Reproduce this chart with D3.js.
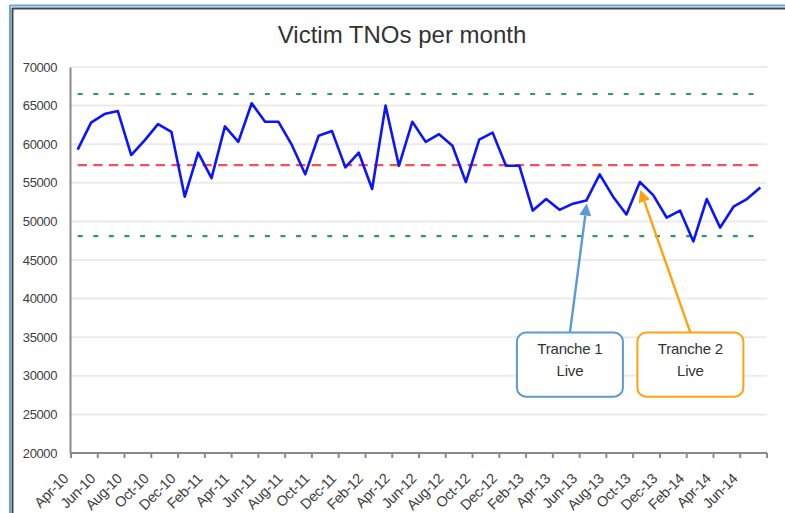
<!DOCTYPE html>
<html>
<head>
<meta charset="utf-8">
<script src="https://cdn.jsdelivr.net/npm/d3@7"></script>
<style>
  html, body { margin: 0; padding: 0; background: #fff; }
  svg { display: block; font-family: "Liberation Sans", Arial, sans-serif; }
</style>
</head>
<body>
<svg id="chart" width="785" height="513"></svg>
<script>
// ---- data ----
const months = [
  "Apr-10","May-10","Jun-10","Jul-10","Aug-10","Sep-10","Oct-10","Nov-10","Dec-10","Jan-11",
  "Feb-11","Mar-11","Apr-11","May-11","Jun-11","Jul-11","Aug-11","Sep-11","Oct-11","Nov-11",
  "Dec-11","Jan-12","Feb-12","Mar-12","Apr-12","May-12","Jun-12","Jul-12","Aug-12","Sep-12",
  "Oct-12","Nov-12","Dec-12","Jan-13","Feb-13","Mar-13","Apr-13","May-13","Jun-13","Jul-13",
  "Aug-13","Sep-13","Oct-13","Nov-13","Dec-13","Jan-14","Feb-14","Mar-14","Apr-14","May-14",
  "Jun-14","Jul-14"
];
const values = [
  59300, 62800, 63900, 64300, 58600, 60500, 62600, 61600, 53200, 58900,
  55600, 62300, 60300, 65300, 62900, 62900, 59900, 56100, 61100, 61700,
  57000, 58900, 54200, 65000, 57200, 62900, 60300, 61300, 59800, 55100,
  60600, 61500, 57200, 57200, 51400, 52900, 51500, 52300, 52700, 56100,
  53200, 50900, 55100, 53400, 50500, 51400, 47400, 52900, 49200, 51900,
  52900, 54400
];
const meanValue = 57300;
const upperLimit = 66500;
const lowerLimit = 48100;
const yTicks = [20000, 25000, 30000, 35000, 40000, 45000, 50000, 55000, 60000, 65000, 70000];
const xLabels = [
  "Apr-10","Jun-10","Aug-10","Oct-10","Dec-10","Feb-11","Apr-11","Jun-11","Aug-11","Oct-11",
  "Dec-11","Feb-12","Apr-12","Jun-12","Aug-12","Oct-12","Dec-12","Feb-13","Apr-13","Jun-13",
  "Aug-13","Oct-13","Dec-13","Feb-14","Apr-14","Jun-14"
];
const annotations = [
  { month: "Jun-13", lines: ["Tranche 1", "Live"], color: "#5b9bd5", boxMonth: "May-13" },
  { month: "Oct-13", lines: ["Tranche 2", "Live"], color: "#ffa20f", boxMonth: "Feb-14" }
];
const title = "Victim TNOs per month";

// ---- layout ----
const svg = d3.select("#chart");
const pLeft = 71, pRight = 767, pTop = 67, pBottom = 453;

const x = d3.scaleBand().domain(months).range([pLeft, pRight]).padding(0);
const cx = d => x(d) + x.bandwidth() / 2;
const y = d3.scaleLinear().domain([20000, 70000]).range([pBottom, pTop]);

// frame
svg.append("line").attr("x1", 10).attr("x2", 785).attr("y1", 5.5).attr("y2", 5.5)
  .attr("stroke", "#6aa5dc").attr("stroke-width", 2);
svg.append("line").attr("x1", 10).attr("x2", 10).attr("y1", 5).attr("y2", 513)
  .attr("stroke", "#6aa5dc").attr("stroke-width", 2);
svg.append("line").attr("x1", 12).attr("x2", 785).attr("y1", 8.5).attr("y2", 8.5)
  .attr("stroke", "#444").attr("stroke-width", 2);
svg.append("line").attr("x1", 12.5).attr("x2", 12.5).attr("y1", 8).attr("y2", 513)
  .attr("stroke", "#444").attr("stroke-width", 2);

// title
svg.append("text").attr("x", 402).attr("y", 43).attr("text-anchor", "middle")
  .attr("font-size", 24).attr("fill", "#333").text(title);

// gridlines
svg.append("g").selectAll("line").data(yTicks.slice(1)).join("line")
  .attr("x1", pLeft).attr("x2", pRight)
  .attr("y1", d => y(d)).attr("y2", d => y(d))
  .attr("stroke", "#ebebeb").attr("stroke-width", 2);

// y axis
const yAxis = svg.append("g").attr("transform", `translate(${pLeft - 1},0)`)
  .call(d3.axisLeft(y).tickValues(yTicks).tickFormat(d3.format("d")).tickSize(0).tickPadding(13));
yAxis.select(".domain").attr("stroke", "#8a8a8a").attr("stroke-width", 2);
yAxis.selectAll("text").attr("font-size", 13).attr("fill", "#404040")
  .attr("font-family", "'Liberation Sans', Arial, sans-serif").attr("letter-spacing", -0.4);

// x axis
const tickPos = d3.range(0, months.length + 1, 2).map(i => pLeft + i * x.bandwidth());
const xg = svg.append("g");
xg.append("line").attr("x1", pLeft - 1).attr("x2", pRight).attr("y1", pBottom).attr("y2", pBottom)
  .attr("stroke", "#8a8a8a").attr("stroke-width", 2);
xg.selectAll("line.tk").data(tickPos).join("line").attr("class", "tk")
  .attr("x1", d => d).attr("x2", d => d).attr("y1", pBottom).attr("y2", pBottom + 5)
  .attr("stroke", "#8a8a8a").attr("stroke-width", 2);
xg.selectAll("text").data(xLabels).join("text")
  .attr("transform", d => `translate(${cx(d) - 12},${pBottom + 23}) rotate(-45)`)
  .attr("text-anchor", "end").attr("dy", "0.35em")
  .attr("font-size", 14.5).attr("fill", "#404040").attr("letter-spacing", -0.4)
  .text(d => d);

// reference lines
const x0 = cx(months[0]), x1 = cx(months[months.length - 1]);
const refs = [
  { v: upperLimit, color: "#2f9a62", dash: "5,10.6" },
  { v: lowerLimit, color: "#2f9a62", dash: "5,10.6" },
  { v: meanValue, color: "#f25252", dash: "9.3,6.3" }
];
svg.append("g").selectAll("line").data(refs).join("line")
  .attr("x1", x0).attr("x2", x1)
  .attr("y1", d => y(d.v)).attr("y2", d => y(d.v))
  .attr("stroke", d => d.color).attr("stroke-width", 2.2)
  .attr("stroke-dasharray", d => d.dash);

// data line
const line = d3.line().x((d, i) => cx(months[i])).y(d => y(d));
svg.append("path").datum(values)
  .attr("d", line).attr("fill", "none")
  .attr("stroke", "#0a14ff").attr("stroke-width", 2.6).attr("stroke-linejoin", "round");

// annotations
const boxTop = y(35600), boxBottom = y(27300);
annotations.forEach(a => {
  const idx = months.indexOf(a.month);
  const tx = cx(a.month) + 0.5;
  const ty = y(values[idx]) + (a.month === "Oct-13" ? 8 : 3);
  const bxCenter = cx(a.boxMonth) - 3;
  const bw = 106;
  const sx = bxCenter, sy = boxTop;
  const ang = Math.atan2(ty - sy, tx - sx);
  const headLen = 12, headW = 6;
  const bx = tx - headLen * Math.cos(ang), by = ty - headLen * Math.sin(ang);
  svg.append("line").attr("x1", sx).attr("y1", sy).attr("x2", bx).attr("y2", by)
    .attr("stroke", a.color).attr("stroke-width", 2.4);
  const px = -Math.sin(ang), py = Math.cos(ang);
  svg.append("path")
    .attr("d", `M${tx},${ty} L${bx + px * headW},${by + py * headW} L${bx - px * headW},${by - py * headW} Z`)
    .attr("fill", a.color);
  svg.append("rect").attr("x", bxCenter - bw / 2).attr("y", boxTop)
    .attr("width", bw).attr("height", boxBottom - boxTop)
    .attr("rx", 9).attr("ry", 9)
    .attr("fill", "#fff").attr("stroke", a.color).attr("stroke-width", 2);
  a.lines.forEach((t, j) => {
    svg.append("text").attr("x", bxCenter).attr("y", boxTop + 21 + j * 22)
      .attr("text-anchor", "middle").attr("font-size", 15).attr("fill", "#333")
      .attr("letter-spacing", -0.2).text(t);
  });
});
</script>
</body>
</html>
